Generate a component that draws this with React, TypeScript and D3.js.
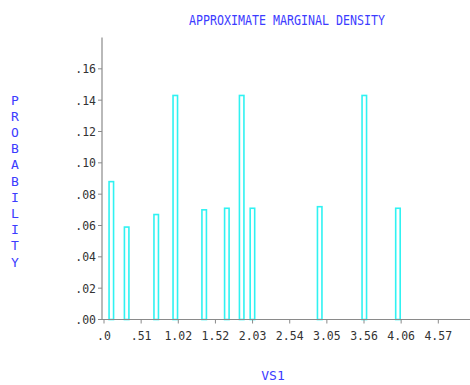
import React from "react";
import * as d3 from "d3";

// Support points of the approximate marginal density and their probabilities
const locations = [0.1, 0.31, 0.714, 0.975, 1.37, 1.68, 1.883, 2.03, 2.95, 3.56, 4.02];
const probabilities = [0.088, 0.059, 0.067, 0.143, 0.07, 0.071, 0.143, 0.071, 0.072, 0.143, 0.071];

const xTickValues = [0, 0.508, 1.016, 1.524, 2.032, 2.54, 3.048, 3.556, 4.064, 4.572];
const xTickLabels = [".0", ".51", "1.02", "1.52", "2.03", "2.54", "3.05", "3.56", "4.06", "4.57"];
const yTickValues = [0, 0.02, 0.04, 0.06, 0.08, 0.1, 0.12, 0.14, 0.16];
const yTickLabels = [".00", ".02", ".04", ".06", ".08", ".10", ".12", ".14", ".16"];

const title = "APPROXIMATE MARGINAL DENSITY";
const yTitle = "PROBABILITY";
const xTitle = "VS1";

const W = 470;
const H = 385;
const MONO = "'DejaVu Sans Mono', 'Liberation Mono', monospace";
const BLUE = "#3c3cff";
const CYAN = "#30f2f2";
const AXIS = "#8a8a8a";
const TEXT = "#333";

export default function App() {
  const x = d3.scaleLinear().domain([0, 4.572]).range([104, 438.3]);
  const y = d3.scaleLinear().domain([0, 0.18]).range([319.5, 37.5]);
  const axisX = 102;
  const barW = 4.5;

  return (
    <svg
      width={W}
      height={H}
      style={{ position: "absolute", left: 0, top: 0, background: "#fff" }}
    >
      <text
        x={287}
        y={25}
        textAnchor="middle"
        fontFamily={MONO}
        fontSize={13.5}
        fill={BLUE}
        textLength={196}
        lengthAdjust="spacingAndGlyphs"
      >
        {title}
      </text>

      {yTitle.split("").map((ch, i) => (
        <text
          key={i}
          x={15}
          y={100 + i * 16.2}
          dy="0.36em"
          textAnchor="middle"
          fontFamily={MONO}
          fontSize={13}
          fill={BLUE}
        >
          {ch}
        </text>
      ))}

      <text x={273} y={380} textAnchor="middle" fontFamily={MONO} fontSize={13} fill={BLUE}>
        {xTitle}
      </text>

      {/* bars */}
      {locations.map((v, i) => (
        <rect
          key={i}
          x={x(v) - barW / 2}
          y={y(probabilities[i])}
          width={barW}
          height={y(0) - y(probabilities[i])}
          fill="none"
          stroke={CYAN}
          strokeWidth={1.6}
        />
      ))}

      {/* axes */}
      <line x1={axisX} x2={axisX} y1={y(0.18)} y2={y(0)} stroke={AXIS} strokeWidth={1.2} />
      <line x1={axisX} x2={W} y1={y(0)} y2={y(0)} stroke={AXIS} strokeWidth={1.2} />

      {yTickValues.map((v, i) => (
        <g key={i}>
          <line x1={axisX - 4} x2={axisX} y1={y(v)} y2={y(v)} stroke={AXIS} strokeWidth={1} />
          <text
            x={96}
            y={y(v)}
            dy="0.38em"
            textAnchor="end"
            fontFamily={MONO}
            fontSize={11.5}
            fill={TEXT}
          >
            {yTickLabels[i]}
          </text>
        </g>
      ))}

      {xTickValues.map((v, i) => (
        <g key={i}>
          <line x1={x(v)} x2={x(v)} y1={y(0)} y2={y(0) + 4} stroke={AXIS} strokeWidth={1} />
          <text
            x={x(v)}
            y={340}
            textAnchor="middle"
            fontFamily={MONO}
            fontSize={11.5}
            fill={TEXT}
          >
            {xTickLabels[i]}
          </text>
        </g>
      ))}
    </svg>
  );
}
